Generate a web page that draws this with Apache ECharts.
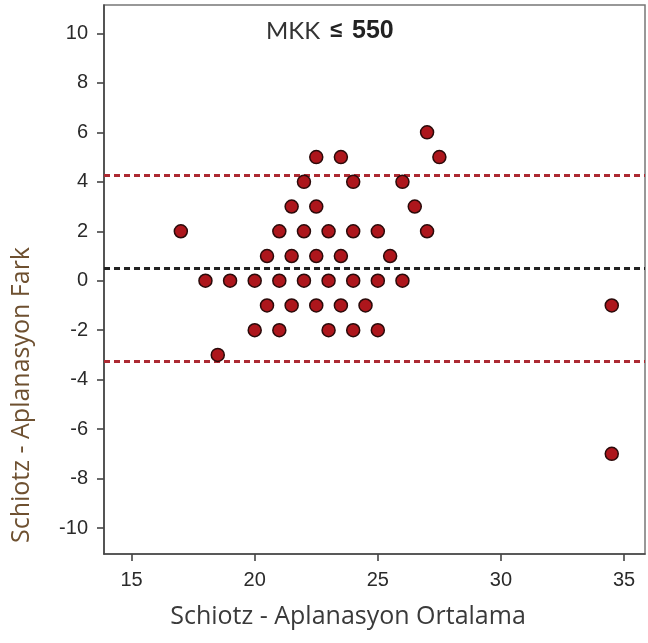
<!DOCTYPE html>
<html>
<head>
<meta charset="utf-8">
<script src="https://cdn.jsdelivr.net/npm/echarts@6/dist/echarts.min.js"></script>
<style>
html,body{margin:0;padding:0;background:#fff;}
#c{width:648px;height:643px;}
</style>
</head>
<body>
<div id="c"></div>
<script>
// Bland-Altman data: x = mean (Schiotz, Aplanasyon), y = difference
const xMeans = [27, 22.5, 23.5, 27.5, 22, 24, 26, 21.5, 22.5, 26.5,
  17, 21, 22, 23, 24, 25, 27,
  20.5, 21.5, 22.5, 23.5, 25.5,
  18, 19, 20, 21, 22, 23, 24, 25, 26,
  20.5, 21.5, 22.5, 23.5, 24.5,
  20, 21, 23, 24, 25,
  18.5, 34.5, 34.5];
const yDiffs = [6, 5, 5, 5, 4, 4, 4, 3, 3, 3,
  2, 2, 2, 2, 2, 2, 2,
  1, 1, 1, 1, 1,
  0, 0, 0, 0, 0, 0, 0, 0, 0,
  -1, -1, -1, -1, -1,
  -2, -2, -2, -2, -2,
  -3, -1, -7];
const meanDiff = 0.52;
const upperLoA = 4.25;
const lowerLoA = -3.27;
const xTicks = [15, 20, 25, 30, 35];
const yTicks = [-10, -8, -6, -4, -2, 0, 2, 4, 6, 8, 10];
const xTitle = 'Schiotz - Aplanasyon Ortalama';
const yTitle = 'Schiotz - Aplanasyon Fark';
const noteLabel = 'MKK';
const noteSign = '≤';
const noteValue = '550';

const points = xMeans.map((x, i) => [x, yDiffs[i]]);

const chart = echarts.init(document.getElementById('c'), null, {renderer: 'canvas'});
const axisCommon = {
  axisLine: {show: true, onZero: false, lineStyle: {color: '#444', width: 1.6}},
  axisTick: {show: true, inside: false, length: 7, lineStyle: {color: '#444', width: 1.6}},
  splitLine: {show: false},
  axisLabel: {color: '#2a2a2a', fontFamily: 'Liberation Sans', fontSize: 20}
};
const dash = [6, 4];
chart.setOption({
  animation: false,
  backgroundColor: '#fff',
  grid: {left: 104, right: 3, top: 5, bottom: 89, show: true, borderColor: '#777', borderWidth: 1.5, containLabel: false, outerBoundsMode: 'none'},
  xAxis: Object.assign({}, axisCommon, {
    type: 'value', min: 13.88, max: 35.85,
    axisTick: Object.assign({}, axisCommon.axisTick, {customValues: xTicks}),
    axisLabel: Object.assign({}, axisCommon.axisLabel, {customValues: xTicks, margin: 16})
  }),
  yAxis: Object.assign({}, axisCommon, {
    type: 'value', min: -11.05, max: 11.15,
    axisTick: Object.assign({}, axisCommon.axisTick, {customValues: yTicks}),
    axisLabel: Object.assign({}, axisCommon.axisLabel, {customValues: yTicks, margin: 16})
  }),
  graphic: [
    {type: 'text', x: 348, y: 617, style: {text: xTitle, fill: '#3a3a3a', font: '25px "Open Sans"', align: 'center', verticalAlign: 'middle'}},
    {type: 'text', x: 22, y: 395, rotation: Math.PI / 2, style: {text: yTitle, fill: '#6e5030', font: '25px "Open Sans"', align: 'center', verticalAlign: 'middle'}},
    {type: 'text', x: 266, y: 31, style: {text: noteLabel, fill: '#333', font: '24px Lato', verticalAlign: 'middle'}},
    {type: 'text', x: 330, y: 31, style: {text: noteSign, fill: '#222', font: 'bold 22px "Liberation Sans"', verticalAlign: 'middle'}},
    {type: 'text', x: 352, y: 31, style: {text: noteValue, fill: '#222', font: 'bold 25px "Liberation Sans"', verticalAlign: 'middle'}}
  ],
  series: [{
    type: 'scatter',
    data: points,
    symbol: 'circle',
    symbolSize: 13,
    itemStyle: {color: '#ad161c', borderColor: '#2a0a0a', borderWidth: 1.5, opacity: 1},
    z: 5,
    markLine: {
      silent: true,
      symbol: ['none', 'none'],
      label: {show: false},
      z: 3,
      data: [
        {yAxis: upperLoA, lineStyle: {color: '#ad2a32', type: dash, width: 3}},
        {yAxis: meanDiff, lineStyle: {color: '#222', type: dash, width: 3}},
        {yAxis: lowerLoA, lineStyle: {color: '#ad2a32', type: dash, width: 3}}
      ]
    }
  }]
});
</script>
</body>
</html>
